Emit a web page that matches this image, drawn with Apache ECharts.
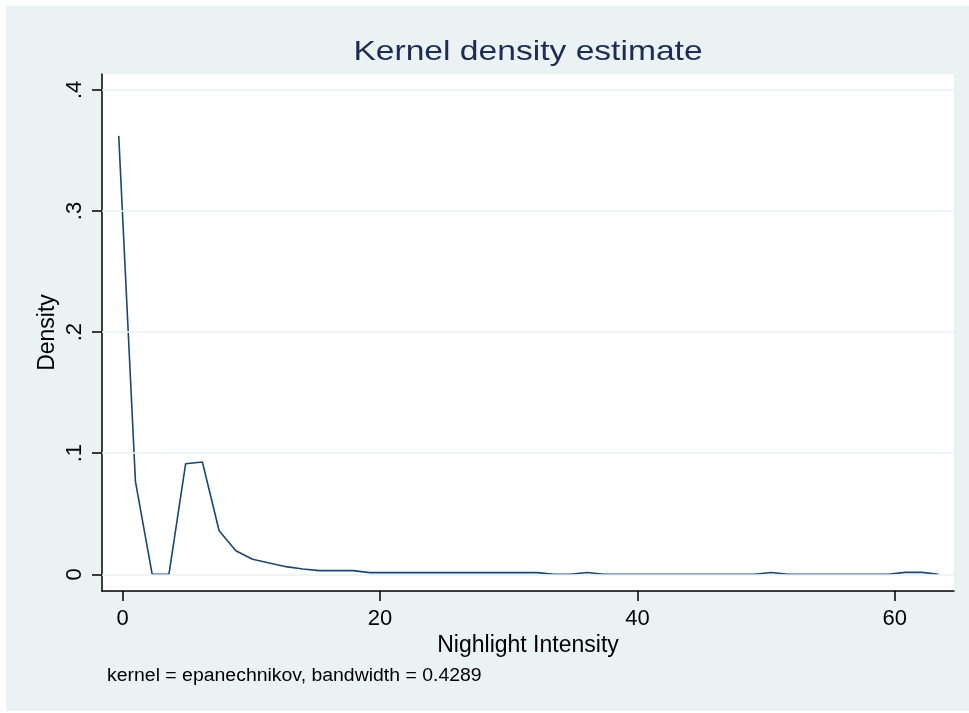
<!DOCTYPE html>
<html>
<head>
<meta charset="utf-8">
<script src="https://cdn.jsdelivr.net/npm/echarts@6/dist/echarts.min.js"></script>
<style>
  html, body { margin: 0; padding: 0; background: #fff; }
  #kdensity { position: absolute; left: 6px; top: 6px; width: 963px; height: 705px; }
</style>
</head>
<body>
<div id="kdensity"></div>
<script>
// evaluation points (Stata kdensity, n = 50)
var xGrid = [-0.3, 1.0, 2.3, 3.6, 4.9, 6.2, 7.5, 8.8, 10.1, 11.4,
  12.7, 14.0, 15.3, 16.6, 17.9, 19.2, 20.5, 21.8, 23.1, 24.4,
  25.7, 27.0, 28.3, 29.6, 30.9, 32.2, 33.5, 34.8, 36.1, 37.4,
  38.7, 40.0, 41.3, 42.6, 43.9, 45.2, 46.5, 47.8, 49.1, 50.4,
  51.7, 53.0, 54.3, 55.6, 56.9, 58.2, 59.5, 60.8, 62.1, 63.4];
var density = [0.362, 0.0765, 0, 0, 0.0913, 0.0927, 0.036, 0.0195, 0.0124, 0.0093,
  0.0063, 0.0044, 0.003, 0.003, 0.003, 0.0014, 0.0014, 0.0014, 0.0014, 0.0014,
  0.0014, 0.0014, 0.0014, 0.0014, 0.0014, 0.0014, 0, 0, 0.0015, 0,
  0, 0, 0, 0, 0, 0, 0, 0, 0, 0.0015,
  0, 0, 0, 0, 0, 0, 0, 0.0016, 0.0016, 0];

var xTicks = [0, 20, 40, 60];
var yTicks = [0, 0.1, 0.2, 0.3, 0.4];
var yTickLabels = ["0", ".1", ".2", ".3", ".4"];

var points = [];
for (var i = 0; i < xGrid.length; i++) {
  points.push([xGrid[i], density[i]]);
}

var font = "Liberation Sans";
var myChart = echarts.init(document.getElementById("kdensity"));

var option = {
  animation: false,
  backgroundColor: "#eaf2f3",
  grid: {
    show: true,
    backgroundColor: "#ffffff",
    borderWidth: 0,
    left: 96,
    top: 68,
    right: 15,
    bottom: 120,
  },
  graphic: [
    {
      type: "text",
      x: 522,
      y: 46,
      scaleX: 1.2,
      style: {
        text: "Kernel density estimate",
        font: "28px " + font,
        fill: "#1e2c55",
        align: "center",
        verticalAlign: "middle",
        textAlign: "center",
        textVerticalAlign: "middle",
      },
    },
    {
      type: "text",
      x: 101,
      y: 670,
      scaleX: 1.08,
      style: {
        text: "kernel = epanechnikov, bandwidth = 0.4289",
        font: "18px " + font,
        fill: "#000000",
        align: "left",
        verticalAlign: "middle",
        textAlign: "left",
        textVerticalAlign: "middle",
      },
    },
  ],
  xAxis: {
    type: "value",
    min: -1.6,
    max: 64.6,
    name: "Nighlight Intensity",
    nameLocation: "middle",
    nameGap: 43,
    nameMoveOverlap: false,
    nameTextStyle: { fontFamily: font, fontSize: 23, color: "#000" },
    axisLine: { show: true, onZero: false, lineStyle: { color: "#000", width: 1.5 } },
    axisTick: { show: true, customValues: xTicks, length: 10, lineStyle: { color: "#000", width: 1.5 } },
    axisLabel: { customValues: xTicks, fontFamily: font, fontSize: 22, color: "#000", margin: 17 },
    splitLine: { show: false },
  },
  yAxis: {
    type: "value",
    min: -0.0138,
    max: 0.4131,
    name: "Density",
    nameLocation: "middle",
    nameGap: 43,
    nameMoveOverlap: false,
    nameTextStyle: { fontFamily: font, fontSize: 23, color: "#000" },
    axisLine: { show: true, onZero: false, lineStyle: { color: "#000", width: 1.5 } },
    axisTick: { show: true, customValues: yTicks, length: 10, lineStyle: { color: "#000", width: 1.5 } },
    axisLabel: {
      customValues: yTicks,
      rotate: 90,
      fontFamily: font,
      fontSize: 22,
      color: "#000",
      margin: 16,
      formatter: function (v) {
        var k = yTicks.indexOf(v);
        return k >= 0 ? yTickLabels[k] : "";
      },
    },
    splitLine: { show: false },
  },
  series: [
    {
      // gridlines, under the curve
      type: "line",
      data: [],
      z: 1,
      silent: true,
      markLine: {
        silent: true,
        symbol: ["none", "none"],
        label: { show: false },
        lineStyle: { color: "#eaf2f3", width: 1.5, type: "solid" },
        emphasis: { disabled: true },
        data: yTicks.map(function (v) { return { yAxis: v }; }),
      },
    },
    {
      type: "line",
      data: points,
      z: 3,
      showSymbol: false,
      symbol: "none",
      smooth: false,
      lineStyle: { color: "#1a476f", width: 1.6 },
      emphasis: { disabled: true },
    },
  ],
};

myChart.setOption(option);
window.addEventListener("resize", myChart.resize);
</script>
</body>
</html>
